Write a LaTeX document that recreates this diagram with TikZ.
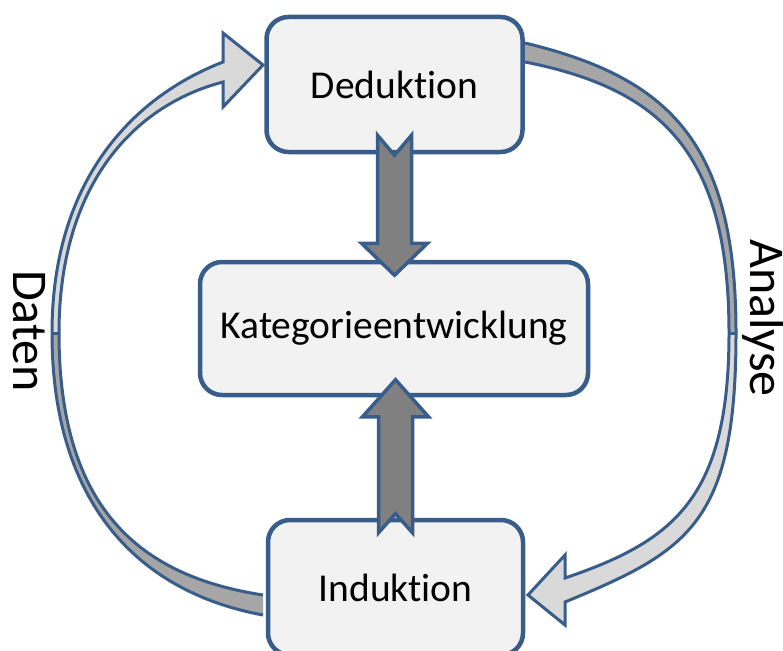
\documentclass[tikz,border=0pt]{standalone}
\usepackage{fontspec}
\setmainfont{Carlito}[Ligatures={NoCommon,NoContextual}]
\definecolor{edgeblue}{HTML}{385D8A}
\definecolor{boxfill}{HTML}{F2F2F2}
\definecolor{arrowgray}{HTML}{808080}
\definecolor{bandlight}{HTML}{D9D9D9}
\definecolor{banddark}{HTML}{A6A6A6}
\begin{document}
\begin{tikzpicture}[x=1pt,y=-1pt,
  stage/.style={draw=edgeblue, line width=4.5pt, fill=boxfill, rounded corners=22pt,
    inner sep=0pt, font=\fontsize{39.5}{42}\selectfont},
  fatarrow/.style={draw=edgeblue, line width=3.5pt, fill=arrowgray, line join=miter},
  bandline/.style={draw=edgeblue, line width=3pt, line join=miter},
  sidelabel/.style={rotate=-90, anchor=base, inner sep=0pt, font=\fontsize{50}{52}\selectfont}]
\useasboundingbox (0,0) rectangle (783,650);

% the three stages
\node[stage, minimum width=256pt, minimum height=135pt] (ded) at (394.5,84.5) {Deduktion};
\node[stage, minimum width=388pt, minimum height=133pt] (kat) at (394,328.5) {Kategorieentwicklung};
\node[stage, minimum width=255pt, minimum height=135pt] (ind) at (395.5,587.5) {Induktion};

% curved band on the left: from Induktion back up to Deduktion
\path[save path=\datenp]
  (263,615) .. controls (138,592) and (52,503) .. (52,333)
  .. controls (52,183) and (130,98) .. (223,62)
  -- (223,33) -- (263,65) -- (223,107) -- (223,82)
  .. controls (131,106) and (59,188) .. (59,333)
  .. controls (59,508) and (139,576) .. (263,595);
\fill[bandlight, use path=\datenp];
\begin{scope}
  \clip (0,333) rectangle (300,700);
  \fill[banddark, use path=\datenp];
\end{scope}
\draw[bandline, use path=\datenp];
\draw[edgeblue, line width=3pt] (51,333) -- (60,333);

% curved band on the right: from Deduktion down to Induktion
\path[save path=\analysep]
  (525,43) .. controls (670,78) and (736,143) .. (736,333)
  .. controls (736,523) and (689,551) .. (565,602)
  -- (565,625) -- (528,595) -- (565,555) -- (565,578)
  .. controls (674,541) and (729,498) .. (729,333)
  .. controls (729,153) and (662,89) .. (525,62);
\fill[bandlight, use path=\analysep];
\begin{scope}
  \clip (500,0) rectangle (783,333);
  \fill[banddark, use path=\analysep];
\end{scope}
\draw[bandline, use path=\analysep];
\draw[edgeblue, line width=3pt] (728,333) -- (737,333);

% side labels
\node[sidelabel] (daten) at (13,331) {Daten};
\node[sidelabel] (analyse) at (750,318) {Analyse};

% straight arrows into the central stage
\begin{scope}[shift={(ded.south)}]
  \draw[fatarrow] (-17,-19) -- (0,1) -- (17,-19) -- (17,89) -- (33,89) -- (0,121)
    -- (-33,89) -- (-17,89) -- cycle;
\end{scope}
\begin{scope}[shift={(ind.north)}]
  \draw[fatarrow] (-17,15) -- (0,-4) -- (17,15) -- (17,-101) -- (33,-101) -- (0,-138)
    -- (-33,-101) -- (-17,-101) -- cycle;
\end{scope}
\end{tikzpicture}
\end{document}
